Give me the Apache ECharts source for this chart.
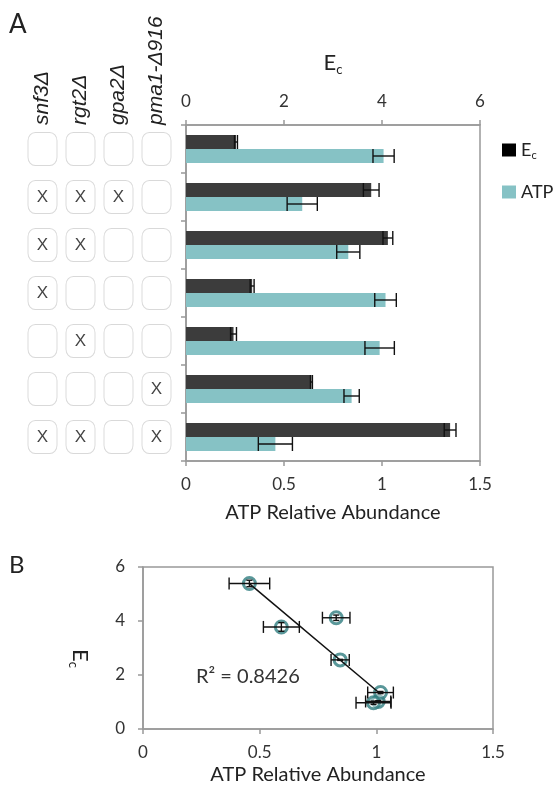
<!DOCTYPE html>
<html>
<head>
<meta charset="utf-8">
<script src="https://cdn.jsdelivr.net/npm/echarts@6/dist/echarts.min.js"></script>
<style>
  html, body { margin: 0; padding: 0; background: #fff; }
  #chart { width: 554px; height: 791px; }
</style>
</head>
<body>
<div id="chart"></div>
<script>
// genotype table (1 = gene deleted in that strain)
const genes = ['snf3Δ', 'rgt2Δ', 'gpa2Δ', 'pma1-Δ916'];
const strains = ['WT', 'snf3Δ rgt2Δ gpa2Δ', 'snf3Δ rgt2Δ', 'snf3Δ', 'rgt2Δ', 'pma1-Δ916', 'snf3Δ rgt2Δ pma1-Δ916'];
const deleted = [
  [0, 0, 0, 0],
  [1, 1, 1, 0],
  [1, 1, 0, 0],
  [1, 0, 0, 0],
  [0, 1, 0, 0],
  [0, 0, 0, 1],
  [1, 1, 0, 1]
];

const ecValues = [1.02, 3.78, 4.12, 1.35, 0.97, 2.56, 5.39];
const ecErrors = [0.03, 0.16, 0.10, 0.04, 0.06, 0.02, 0.12];
const atpValues = [1.008, 0.593, 0.828, 1.018, 0.988, 0.845, 0.456];
const atpErrors = [0.054, 0.077, 0.059, 0.055, 0.075, 0.039, 0.087];
const r2Text = 'R² = 0.8426';

const FONT = 'Lato';
const AXIS_COLOR = '#999';
const TEXT_COLOR = '#333';
const EC_COLOR = '#3c3c3c';
const ATP_COLOR = '#86c2c5';

// least squares trend line for panel B
function fitLine(xs, ys) {
  let n = xs.length, mx = 0, my = 0;
  for (let i = 0; i < n; i++) { mx += xs[i]; my += ys[i]; }
  mx /= n; my /= n;
  let sxy = 0, sxx = 0;
  for (let i = 0; i < n; i++) {
    sxy += (xs[i] - mx) * (ys[i] - my);
    sxx += (xs[i] - mx) * (xs[i] - mx);
  }
  const slope = sxy / sxx;
  return { slope: slope, icpt: my - slope * mx };
}
const fit = fitLine(atpValues, ecValues);
const xMin = Math.min.apply(null, atpValues);
const xMax = Math.max.apply(null, atpValues);
const trendData = [[xMin, fit.icpt + fit.slope * xMin], [xMax, fit.icpt + fit.slope * xMax]];

const errStyle = { stroke: '#111', lineWidth: 1.4 };

// horizontal error bar on a category row, shifted to sit on its bar
function rowErrorBar(offset, half) {
  return function (params, api) {
    const v = api.value(0), idx = api.value(1), e = api.value(2);
    const lo = api.coord([v - e, idx]);
    const hi = api.coord([v + e, idx]);
    const y = lo[1] + offset;
    return {
      type: 'group',
      children: [
        { type: 'line', shape: { x1: lo[0], y1: y, x2: hi[0], y2: y }, style: errStyle },
        { type: 'line', shape: { x1: lo[0], y1: y - half, x2: lo[0], y2: y + half }, style: errStyle },
        { type: 'line', shape: { x1: hi[0], y1: y - half, x2: hi[0], y2: y + half }, style: errStyle }
      ]
    };
  };
}

// x and y error bars for the scatter
function xyErrorBar(params, api) {
  const x = api.value(0), y = api.value(1), ex = api.value(2), ey = api.value(3);
  const l = api.coord([x - ex, y]), r = api.coord([x + ex, y]);
  const b = api.coord([x, y - ey]), t = api.coord([x, y + ey]);
  return {
    type: 'group',
    children: [
      { type: 'line', shape: { x1: l[0], y1: l[1], x2: r[0], y2: r[1] }, style: errStyle },
      { type: 'line', shape: { x1: l[0], y1: l[1] - 6, x2: l[0], y2: l[1] + 6 }, style: errStyle },
      { type: 'line', shape: { x1: r[0], y1: r[1] - 6, x2: r[0], y2: r[1] + 6 }, style: errStyle },
      { type: 'line', shape: { x1: b[0], y1: b[1], x2: t[0], y2: t[1] }, style: errStyle },
      { type: 'line', shape: { x1: b[0] - 3, y1: b[1], x2: b[0] + 3, y2: b[1] }, style: errStyle },
      { type: 'line', shape: { x1: t[0] - 3, y1: t[1], x2: t[0] + 3, y2: t[1] }, style: errStyle }
    ]
  };
}

const ecName = {
  e: { fontFamily: FONT, fontSize: 22, color: '#222', lineHeight: 26 },
  s: { fontFamily: FONT, fontSize: 13, color: '#222', verticalAlign: 'bottom', lineHeight: 26 }
};

function valueAxis(opts) {
  return Object.assign({
    type: 'value',
    axisLine: { show: true, lineStyle: { color: AXIS_COLOR, width: 1.5 } },
    axisTick: { show: true, length: 5, lineStyle: { color: AXIS_COLOR, width: 1.5 } },
    axisLabel: { fontFamily: FONT, fontSize: 17, color: TEXT_COLOR, margin: 15 },
    splitLine: { show: false },
    nameLocation: 'middle'
  }, opts);
}

const cellData = [];
deleted.forEach(function (row, r) {
  row.forEach(function (d, c) { cellData.push([c, r, d]); });
});

const chart = echarts.init(document.getElementById('chart'));
chart.setOption({
  animation: false,
  backgroundColor: '#fff',
  textStyle: { fontFamily: FONT },
  grid: [
    { left: 186, top: 125, width: 294, height: 336, show: true, borderColor: AXIS_COLOR, borderWidth: 1.5, outerBoundsMode: 'none' },
    { left: 23.5, top: 125, width: 152, height: 336, outerBoundsMode: 'none' },
    { left: 143, top: 567, width: 350, height: 162, show: true, borderColor: AXIS_COLOR, borderWidth: 1.5, outerBoundsMode: 'none' },
    // holder for the rotated y title of panel B
    { left: 65, top: 668, width: 30, height: 1, outerBoundsMode: 'none' }
  ],
  legend: {
    orient: 'vertical',
    left: 497,
    top: 136,
    itemWidth: 14,
    itemHeight: 13,
    itemGap: 22,
    icon: 'rect',
    data: [{ name: 'Ec', itemStyle: { color: '#000' } }, { name: 'ATP' }],
    formatter: function (name) { return name === 'Ec' ? '{e|E}{s|c}' : '{e|ATP}'; },
    textStyle: {
      rich: {
        e: { fontFamily: FONT, fontSize: 18, color: '#222', lineHeight: 22 },
        s: { fontFamily: FONT, fontSize: 11, color: '#222', verticalAlign: 'bottom', lineHeight: 22 }
      }
    }
  },
  xAxis: [
    valueAxis({
      gridIndex: 0, position: 'top', min: 0, max: 6, interval: 2,
      name: '{e|E}{s|c}', nameGap: 49, nameTextStyle: { rich: ecName }
    }),
    valueAxis({
      gridIndex: 0, position: 'bottom', min: 0, max: 1.5, interval: 0.5,
      name: 'ATP Relative Abundance', nameGap: 42,
      nameTextStyle: { fontFamily: FONT, fontSize: 20, color: '#222' }
    }),
    {
      type: 'category', gridIndex: 1, position: 'top', data: genes,
      axisLine: { show: false }, axisTick: { show: false },
      axisLabel: {
        rotate: -90, margin: 0, fontFamily: 'Liberation Sans', fontStyle: 'italic',
        fontSize: 21, color: '#222', interval: 0
      }
    },
    valueAxis({
      gridIndex: 2, min: 0, max: 1.5, interval: 0.5,
      name: 'ATP Relative Abundance', nameGap: 36,
      nameTextStyle: { fontFamily: FONT, fontSize: 20, color: '#222' }
    }),
    {
      type: 'category', gridIndex: 3, position: 'top', data: ['Ec'],
      axisLine: { show: false }, axisTick: { show: false },
      axisLabel: {
        rotate: -90, margin: 0, interval: 0,
        formatter: function () { return '{e|E}{s|c}'; },
        rich: ecName
      }
    }
  ],
  yAxis: [
    {
      type: 'category', gridIndex: 0, data: strains, inverse: true,
      axisLine: { show: true, lineStyle: { color: AXIS_COLOR, width: 1.5 } },
      axisTick: { show: true, length: 5, lineStyle: { color: AXIS_COLOR, width: 1.5 } },
      axisLabel: { show: false }
    },
    {
      type: 'category', gridIndex: 1, data: strains, inverse: true, show: false
    },
    valueAxis({
      gridIndex: 2, min: 0, max: 6, interval: 2,
      axisLabel: { fontFamily: FONT, fontSize: 17, color: TEXT_COLOR, margin: 18 }
    }),
    { type: 'value', gridIndex: 3, show: false, min: 0, max: 1 }
  ],
  series: [
    {
      name: 'Ec', type: 'bar', xAxisIndex: 0, yAxisIndex: 0,
      data: ecValues, barWidth: 14, barGap: '0%',
      itemStyle: { color: EC_COLOR }
    },
    {
      name: 'ATP', type: 'bar', xAxisIndex: 1, yAxisIndex: 0,
      data: atpValues, barWidth: 14, barGap: '0%',
      itemStyle: { color: ATP_COLOR }
    },
    {
      type: 'custom', xAxisIndex: 0, yAxisIndex: 0,
      renderItem: rowErrorBar(-7, 7),
      encode: { x: 0, y: 1 },
      data: ecValues.map(function (v, i) { return [v, i, ecErrors[i]]; }),
      z: 5
    },
    {
      type: 'custom', xAxisIndex: 1, yAxisIndex: 0,
      renderItem: rowErrorBar(7, 7),
      encode: { x: 0, y: 1 },
      data: atpValues.map(function (v, i) { return [v, i, atpErrors[i]]; }),
      z: 5
    },
    {
      type: 'scatter', xAxisIndex: 2, yAxisIndex: 1,
      symbol: 'roundRect', symbolSize: [29, 33],
      itemStyle: { color: '#fff', borderColor: '#cfcfcf', borderWidth: 1 },
      label: {
        show: true, position: 'inside', color: '#111',
        fontFamily: 'Liberation Sans', fontSize: 17,
        formatter: function (p) { return p.value[2] ? 'X' : ''; }
      },
      data: cellData
    },
    {
      type: 'scatter', xAxisIndex: 3, yAxisIndex: 2,
      symbol: 'circle', symbolSize: 12,
      itemStyle: { color: 'rgba(255,255,255,0.5)', borderColor: '#2f7d80', borderWidth: 3 },
      data: atpValues.map(function (v, i) { return [v, ecValues[i]]; }),
      z: 3
    },
    {
      type: 'custom', xAxisIndex: 3, yAxisIndex: 2,
      renderItem: xyErrorBar,
      encode: { x: 0, y: 1 },
      data: atpValues.map(function (v, i) { return [v, ecValues[i], atpErrors[i], ecErrors[i]]; }),
      z: 4
    },
    {
      type: 'line', xAxisIndex: 3, yAxisIndex: 2,
      data: trendData, symbol: 'none',
      lineStyle: { color: '#111', width: 1.5 },
      z: 5
    }
  ],
  graphic: [
    { type: 'text', left: 9, top: 12, style: { text: 'A', font: '26px Lato', fill: '#222' } },
    { type: 'text', left: 9, top: 553, style: { text: 'B', font: '24px Lato', fill: '#222' } },
    { type: 'text', left: 196, top: 667, style: { text: r2Text, font: '20px Lato', fill: '#333' } }
  ]
});
</script>
</body>
</html>
